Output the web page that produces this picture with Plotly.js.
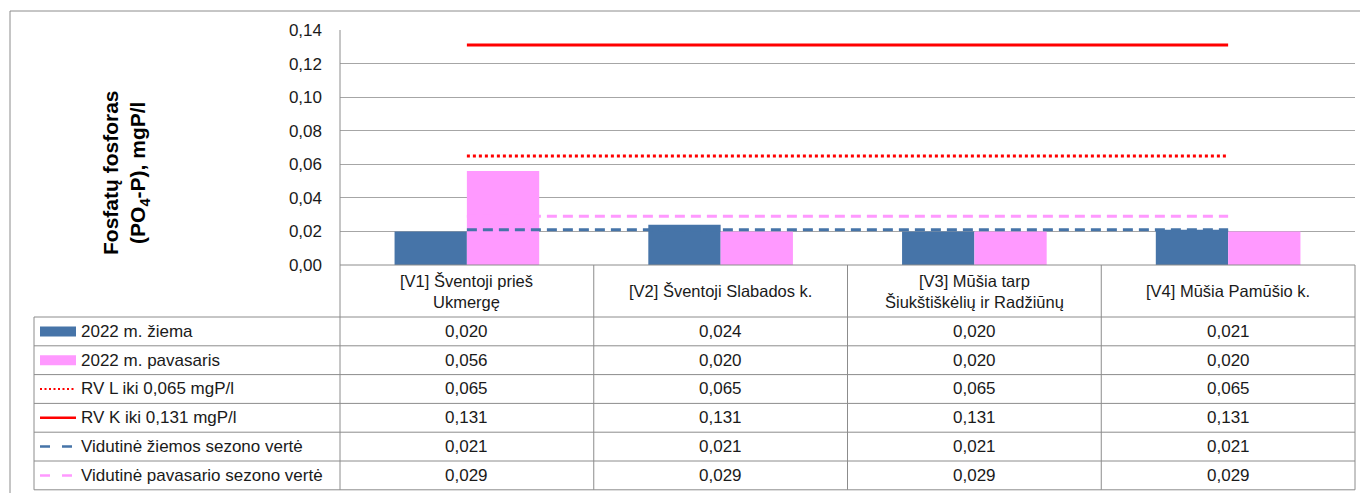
<!DOCTYPE html>
<html><head><meta charset="utf-8">
<script src="https://cdn.plot.ly/plotly-3.0.1.min.js"></script>
<style>html,body{margin:0;padding:0;background:#fff}#chart{width:1360px;height:493px}</style>
</head><body><div id="chart"></div>
<script>
// ---- data ----
const categories = ["[V1] Šventoji prieš Ukmergę", "[V2] Šventoji Slabados k.", "[V3] Mūšia tarp Šiukštiškėlių ir Radžiūnų", "[V4] Mūšia Pamūšio k."];
const headerLabels = ["[V1] Šventoji prieš<br>Ukmergę", "[V2] Šventoji Slabados k.", "[V3] Mūšia tarp<br>Šiukštiškėlių ir Radžiūnų", "[V4] Mūšia Pamūšio k."];
const seriesNames = ["2022 m. žiema", "2022 m. pavasaris", "RV L iki 0,065 mgP/l", "RV K iki 0,131 mgP/l", "Vidutinė žiemos sezono vertė", "Vidutinė pavasario sezono vertė"];
const ziema = [0.020, 0.024, 0.020, 0.021];
const pavasaris = [0.056, 0.020, 0.020, 0.020];
const rvL = [0.065, 0.065, 0.065, 0.065];
const rvK = [0.131, 0.131, 0.131, 0.131];
const vidZiema = [0.021, 0.021, 0.021, 0.021];
const vidPavasaris = [0.029, 0.029, 0.029, 0.029];
const yTickVals = [0, 0.02, 0.04, 0.06, 0.08, 0.10, 0.12, 0.14];
const yTitleLines = ["Fosfatų fosforas", "(PO<sub>4</sub>-P), mgP/l"];

// ---- styles ----
const BLUE = '#4674A8', PINK = '#FF99FF', RED = '#FF0000';
const FONT = '"Liberation Sans", Arial, sans-serif';
const seriesValues = [ziema, pavasaris, rvL, rvK, vidZiema, vidPavasaris];
const seriesStyle = [
  {kind: 'bar', color: BLUE},
  {kind: 'bar', color: PINK},
  {kind: 'line', color: RED, width: 3, dash: 'dot'},
  {kind: 'line', color: RED, width: 3, dash: 'solid'},
  {kind: 'line', color: BLUE, width: 3, dash: '10px,6px'},
  {kind: 'line', color: PINK, width: 3, dash: '10px,6px'}
];

// ---- geometry (pixels) ----
const W = 1360, H = 493;
const L = 340, R = 1355, T = 30, B = 265;
const PW = R - L, PH = B - T;
const px = x => (x - L) / PW;
const py = y => (B - y) / PH;
const headerBottom = 317, rowH = 28.8, tableLeft = 34, keyX0 = 40, keyX1 = 75, textX = 79;
const GRID = '#a6a6a6', TBL = '#8c8c8c';
const TXT = {family: FONT, size: 17, color: '#1a1a1a'};

const traces = seriesValues.map((vals, i) => {
  const s = seriesStyle[i];
  if (s.kind === 'bar') {
    return {type: 'bar', name: seriesNames[i], x: categories, y: vals, marker: {color: s.color}, hoverinfo: 'skip'};
  }
  return {type: 'scatter', mode: 'lines', name: seriesNames[i], x: categories, y: vals,
          line: {color: s.color, width: s.width, dash: s.dash}, hoverinfo: 'skip'};
});

const shapes = [];
const annotations = [];
const line = (x0, y0, x1, y1, color, width, dash) => shapes.push({type: 'line', xref: 'paper', yref: 'paper',
  x0: px(x0), y0: py(y0), x1: px(x1), y1: py(y1), line: {color: color, width: width, dash: dash || 'solid'}});

// outer chart border
shapes.push({type: 'rect', xref: 'paper', yref: 'paper', x0: px(10), y0: py(11), x1: px(1375), y1: py(510),
  line: {color: TBL, width: 1}, fillcolor: 'rgba(0,0,0,0)'});

// table grid
const nRows = seriesNames.length;
const rowTop = r => headerBottom + r * rowH;
line(L, B, R, B, TBL, 1);
for (let r = 0; r <= nRows; r++) line(tableLeft, rowTop(r), R, rowTop(r), TBL, 1);
line(tableLeft, headerBottom, tableLeft, rowTop(nRows), TBL, 1);
for (let c = 0; c <= categories.length; c++) {
  const x = L + c * PW / categories.length;
  line(x, c === 0 ? T : B, x, rowTop(nRows), TBL, 1);
}

// header labels
categories.forEach((cat, j) => {
  annotations.push({xref: 'x', yref: 'paper', x: cat, y: py((B + headerBottom) / 2), text: headerLabels[j],
    showarrow: false, xanchor: 'center', yanchor: 'middle', align: 'center', font: {family: FONT, size: 16.5, color: '#1a1a1a'}});
});

// rows: keys, names, values
const fmt = v => v.toFixed(3).replace('.', ',');
seriesNames.forEach((name, i) => {
  const yc = rowTop(i) + rowH / 2;
  const s = seriesStyle[i];
  if (s.kind === 'bar') {
    shapes.push({type: 'rect', xref: 'paper', yref: 'paper', x0: px(keyX0), x1: px(keyX1 + 1), y0: py(yc - 5), y1: py(yc + 5),
      line: {width: 0}, fillcolor: s.color});
  } else {
    const d = s.dash === 'solid' ? 'solid' : (s.dash === 'dot' ? '2px,2.5px' : '10px,12px');
    line(keyX0, yc, keyX1 + 1, yc, s.color, s.dash === 'dot' ? 2 : 2.5, d);
  }
  annotations.push({xref: 'paper', yref: 'paper', x: px(textX), y: py(yc), text: name, showarrow: false,
    xanchor: 'left', yanchor: 'middle', font: TXT});
  seriesValues[i].forEach((v, j) => {
    annotations.push({xref: 'x', yref: 'paper', x: categories[j], y: py(yc), text: fmt(v), showarrow: false,
      xanchor: 'center', yanchor: 'middle', font: TXT});
  });
});

// y axis title (two lines, rotated)
annotations.push({xref: 'paper', yref: 'paper', x: px(126), y: py(173), text: yTitleLines.join('<br>'), textangle: -90,
  showarrow: false, xanchor: 'center', yanchor: 'middle', align: 'center', font: {family: FONT, size: 21, color: '#000', weight: 'bold'}});

const layout = {
  width: W, height: H,
  margin: {l: L, r: W - R, t: T, b: H - B, pad: 0},
  paper_bgcolor: '#fff', plot_bgcolor: '#fff',
  separators: ', ',
  showlegend: false,
  barmode: 'group', bargap: 0.43, bargroupgap: 0,
  font: {family: FONT, color: '#1a1a1a'},
  xaxis: {type: 'category', showticklabels: false, showgrid: false, zeroline: false, showline: false, ticks: '', fixedrange: true},
  yaxis: {range: [0, 0.14], tickvals: yTickVals, tickformat: '.2f', showgrid: true, gridcolor: GRID, gridwidth: 1,
          zeroline: false, showline: false, ticks: '', ticklabelstandoff: 17,
          tickfont: {family: FONT, size: 17, color: '#1a1a1a'}, fixedrange: true},
  shapes: shapes,
  annotations: annotations
};

Plotly.newPlot('chart', traces, layout, {displayModeBar: false, staticPlot: true});
</script>
</body></html>
